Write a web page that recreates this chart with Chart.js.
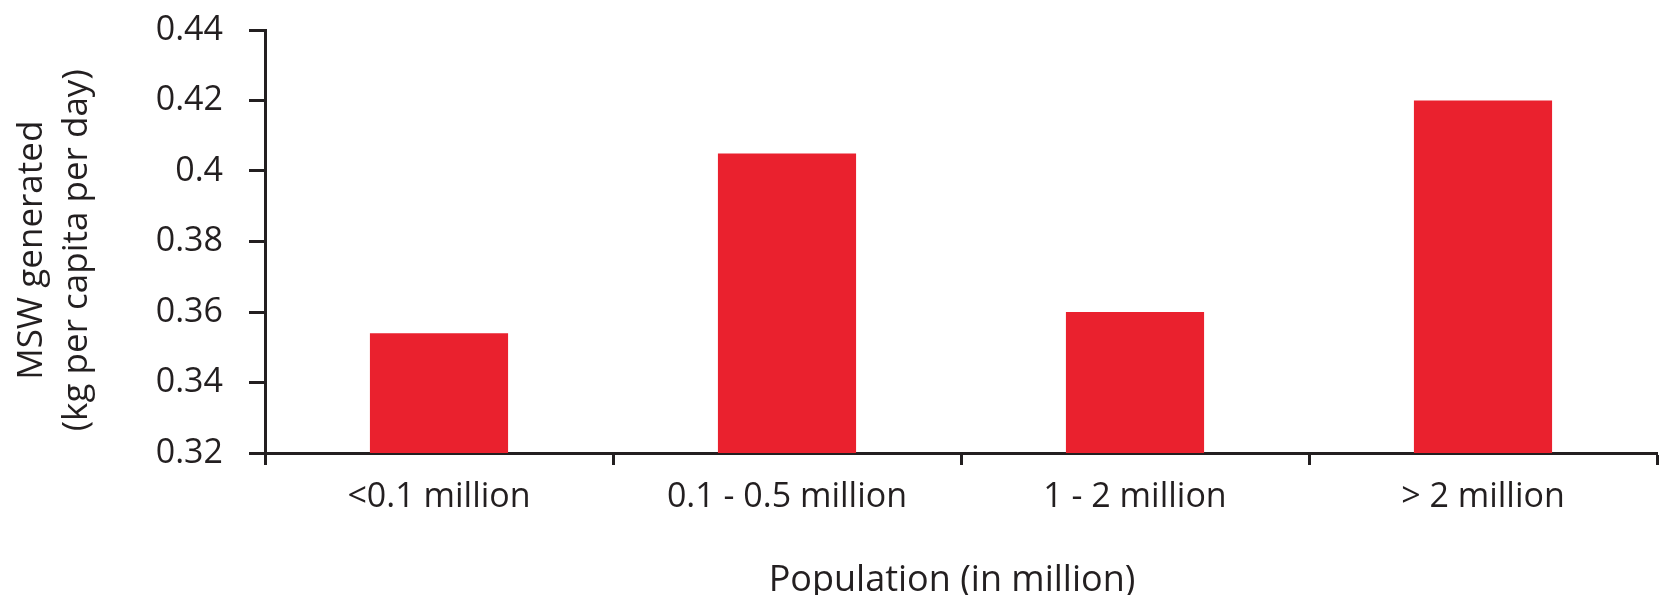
<!DOCTYPE html>
<html>
<head>
<meta charset="utf-8">
<script src="https://cdn.jsdelivr.net/npm/chart.js@4/dist/chart.umd.min.js"></script>
<style>
  html, body { margin: 0; padding: 0; background: #ffffff; }
  #wrap { width: 1663px; height: 595px; position: relative; }
</style>
</head>
<body>
<div id="wrap"><canvas id="c" width="1663" height="595"></canvas></div>
<script>
const categories = ['<0.1 million', '0.1 - 0.5 million', '1 - 2 million', '> 2 million'];
const mswValues = [0.354, 0.405, 0.36, 0.42];
const yMin = 0.32;
const yMax = 0.44;
const yStep = 0.02;
const xTitle = 'Population (in million)';
const yTitle = ['MSW generated', '(kg per capita per day)'];

const ink = '#231f20';
const FONT = '"Open Sans", "DejaVu Sans", sans-serif';
// trailing en-space nudges the centred titles to sit where the reference places them
const nudge = (t) => t + '\u2002';

new Chart(document.getElementById('c'), {
  type: 'bar',
  data: {
    labels: categories,
    datasets: [{
      data: mswValues,
      backgroundColor: '#ea212e',
      borderWidth: 0,
      categoryPercentage: 0.397,
      barPercentage: 1.0
    }]
  },
  options: {
    responsive: false,
    animation: false,
    devicePixelRatio: 1,
    layout: { padding: { top: 30, right: 6, left: 0, bottom: 0 } },
    plugins: { legend: { display: false }, tooltip: { enabled: false } },
    scales: {
      x: {
        offset: true,
        grid: { display: true, drawOnChartArea: false, drawTicks: true, tickLength: 12, tickWidth: 3, tickColor: ink, offset: true },
        border: { display: true, color: ink, width: 3 },
        ticks: { color: ink, font: { family: FONT, size: 34 }, padding: 12, maxRotation: 0 },
        title: { display: true, text: nudge(xTitle), color: ink, font: { family: FONT, size: 36, lineHeight: 0.8 }, padding: { top: 20, bottom: 0 } },
        afterFit: (s) => { s.height = 142; s.paddingLeft = 0; s.paddingRight = 0; }
      },
      y: {
        min: yMin,
        max: yMax,
        grid: { display: true, drawOnChartArea: false, drawTicks: true, tickLength: 16, tickWidth: 3, tickColor: ink },
        border: { display: true, color: ink, width: 3 },
        ticks: {
          stepSize: yStep,
          color: ink,
          font: { family: FONT, size: 34 },
          padding: 26,
          callback: (v) => String(Number(Number(v).toFixed(2)))
        },
        title: { display: true, text: yTitle.map(nudge), color: ink, font: { family: FONT, size: 35, lineHeight: 1.3 }, padding: { top: 9, bottom: 0 } },
        afterFit: (s) => { s.width = 265; s.paddingTop = 0; s.paddingBottom = 0; }
      }
    }
  }
});
</script>
</body>
</html>
